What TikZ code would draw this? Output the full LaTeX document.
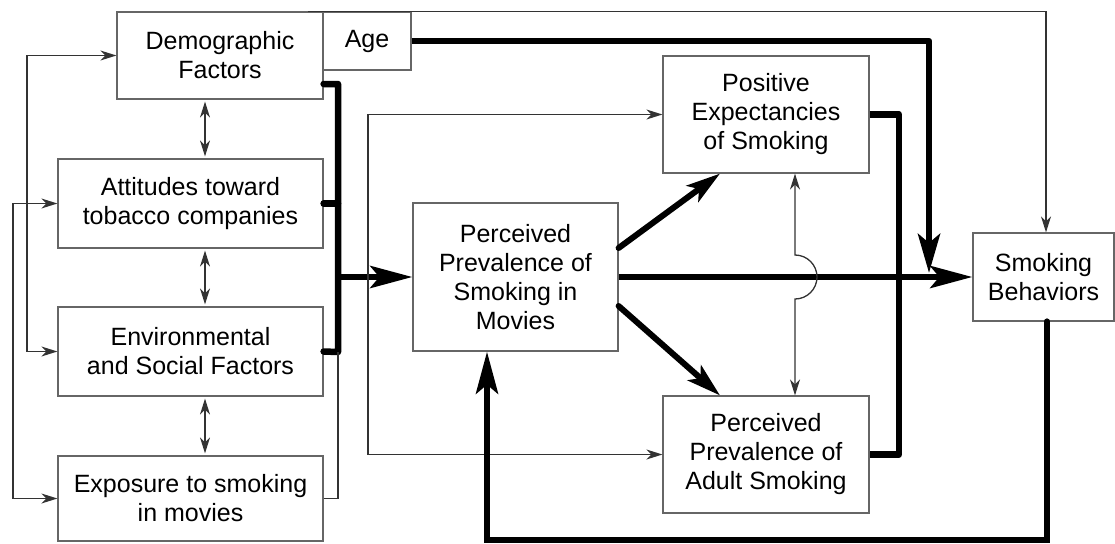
\documentclass[tikz,border=0pt]{standalone}
\usepackage{fontspec}
\setmainfont{Liberation Sans}
\usetikzlibrary{arrows.meta}
\begin{document}
\begin{tikzpicture}[x=1pt,y=-1pt,
  box/.style={draw=black!60, line width=1.2pt, inner sep=0pt, align=center,
    font=\fontsize{25}{29}\selectfont, fill=white},
  fine/.style={draw=black!80, line width=1.3pt},
  finearrow/.style={fine, -{Stealth[length=16pt,width=10pt,inset=5pt]}},
  finedouble/.style={fine, {Stealth[length=16pt,width=10pt,inset=5pt]}-{Stealth[length=16pt,width=10pt,inset=5pt]}},
  heavy/.style={draw=black, line width=6.5pt},
  heavyarrow/.style={heavy, -{Stealth[length=42pt,width=22pt,inset=9pt]}},
  slantarrow/.style={draw=black, line width=6pt, line cap=round, -{Stealth[length=34pt,width=20pt,inset=8pt]}},
]
\useasboundingbox (0,0) rectangle (1115,543);

% boxes
\node[box, minimum width=206pt, minimum height=87pt]  (demo)   at (220,55.5)    {Demographic\\Factors};
\node[box, minimum width=88pt,  minimum height=58pt]  (age)    at (367,41)      {Age};
\node[box, minimum width=265pt, minimum height=89pt]  (att)    at (190.5,203.5) {Attitudes toward\\tobacco companies};
\node[box, minimum width=265pt, minimum height=89pt]  (env)    at (190.5,351.5) {Environmental\\and Social Factors};
\node[box, minimum width=265pt, minimum height=85pt]  (expo)   at (190.5,498.5) {Exposure to smoking\\in movies};
\node[box, minimum width=205pt, minimum height=148pt] (movies) at (515.5,277)   {Perceived\\Prevalence of\\Smoking in\\Movies};
\node[box, minimum width=206pt, minimum height=117pt] (pos)    at (766,114.5)   {Positive\\Expectancies\\of Smoking};
\node[box, minimum width=206pt, minimum height=117pt] (adult)  at (766,454.5)   {Perceived\\Prevalence of\\Adult Smoking};
\node[box, minimum width=141pt, minimum height=88pt]  (smoke)  at (1043.5,277)  {Smoking\\Behaviors};

% junction points
\coordinate (join)    at (338,277);
\coordinate (envjoin) at (338,352);
\coordinate (split)   at (368,277);
\coordinate (agetip)  at (929,273);

% links among the background factors
\draw[finedouble, shorten <=2pt, shorten >=2pt] ([xshift=-15pt]demo.south) -- ([xshift=14.5pt]att.north);
\draw[finedouble, shorten <=2pt, shorten >=2pt] ([xshift=14.5pt]att.south) -- ([xshift=14.5pt]env.north);
\draw[finedouble, shorten <=2pt, shorten >=2pt] ([xshift=14.5pt]env.south) -- ([xshift=14.5pt]expo.north);
\draw[finedouble] (demo.west) -| (27,200) |- (env.west);
\draw[finedouble] (att.west) -| (13,350) |- (expo.west);

% factors feeding perceived prevalence
\draw[heavy, line cap=round, line join=round] ([yshift=-28.5pt]demo.east) -| (envjoin) -- (env.east);
\draw[heavy, line cap=round] (att.east) -- (att.east -| envjoin);
\draw[fine] (expo.east) -| (envjoin);
\draw[heavyarrow] (join) -- (movies.west);
\draw[finearrow] (split) |- (pos.west);
\draw[finearrow] (split) |- (adult.west);

% direct paths to smoking behaviors
\draw[finearrow] ([xshift=88pt]demo.north) -| ([xshift=2.5pt]smoke.north);
\draw[heavyarrow, -{Stealth[length=39pt,width=22pt,inset=9pt]}, line join=round] (age.east) -| (agetip);
\draw[heavyarrow] (movies.east) -- (smoke.west);

% mediators
\draw[slantarrow] ([yshift=29pt]movies.east) -- ([xshift=-46pt]pos.south);
\draw[slantarrow] ([yshift=-29pt]movies.east) -- ([xshift=-46pt]adult.north);
\draw[heavy, line join=round] (pos.east) -| (899,300) |- (adult.east);
\draw[finedouble] ([xshift=29pt]pos.south) -- (795,255)
  arc[start angle=90, end angle=-90, radius=22pt] -- ([xshift=29pt]adult.north);

% feedback loop
\draw[heavyarrow, line cap=round] ([xshift=3.5pt]smoke.south) -- (1047,540) -| ([xshift=-28.5pt]movies.south);
\end{tikzpicture}
\end{document}
